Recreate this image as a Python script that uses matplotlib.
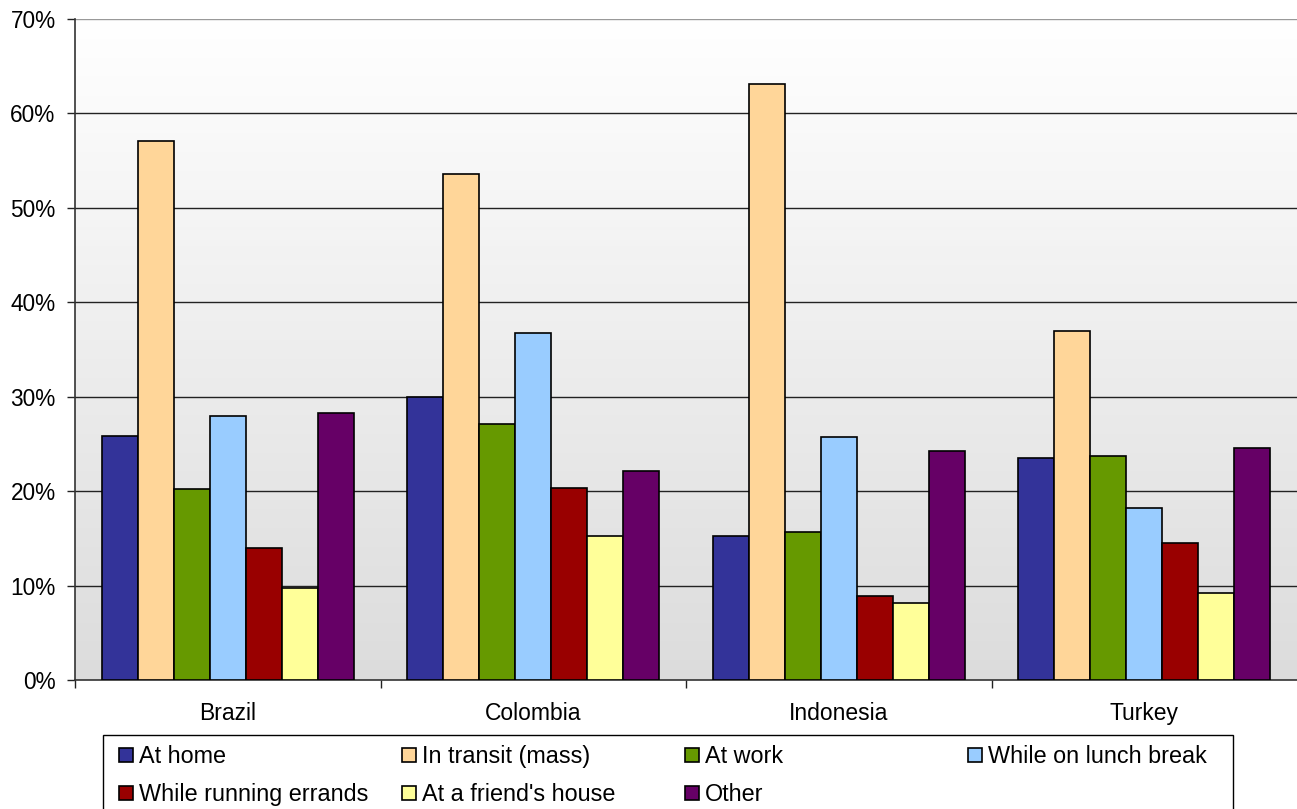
import numpy as np
import matplotlib
matplotlib.use("Agg")
import matplotlib.pyplot as plt
from matplotlib.patches import Rectangle
from matplotlib.ticker import FuncFormatter

countries = ["Brazil", "Colombia", "Indonesia", "Turkey"]
series_names = ["At home", "In transit (mass)", "At work", "While on lunch break",
                "While running errands", "At a friend's house", "Other"]
at_home = [25.8, 30.0, 15.3, 23.5]
in_transit = [57.1, 53.6, 63.1, 37.0]
at_work = [20.2, 27.1, 15.7, 23.7]
lunch_break = [28.0, 36.8, 25.7, 18.2]
errands = [14.0, 20.3, 8.9, 14.5]
friends_house = [9.7, 15.3, 8.2, 9.2]
other = [28.3, 22.1, 24.2, 24.6]
y_ticks = [0, 10, 20, 30, 40, 50, 60, 70]

series_values = [at_home, in_transit, at_work, lunch_break, errands, friends_house, other]
colors = ["#333399", "#FFD699", "#669900", "#99CCFF", "#990000", "#FFFF99", "#660066"]

plt.rcParams["font.family"] = ["Liberation Sans", "DejaVu Sans"]

W, H = 1297, 809
fig = plt.figure(figsize=(W / 100, H / 100), dpi=100)
ax = fig.add_axes([75 / W, 129 / H, 1 - 75 / W, (680 - 19) / H])

# vertical gradient background of the plot area
grad = np.linspace(1.0, 0.0, 256).reshape(-1, 1)
cmap = matplotlib.colors.LinearSegmentedColormap.from_list("bg", ["#DCDCDC", "#FFFFFF"])
ax.imshow(grad, extent=[-0.5, 3.5, 0, 70], aspect="auto", cmap=cmap,
          origin="upper", zorder=0, vmin=0, vmax=1)

x = np.arange(len(countries))
bw = 0.1178
n = len(series_values)
for i, (vals, c) in enumerate(zip(series_values, colors)):
    ax.bar(x + (i - (n - 1) / 2) * bw, vals, width=bw, color=c, edgecolor="black",
           linewidth=1.2, zorder=3)

ax.set_xlim(-0.5, 3.5)
ax.set_ylim(0, 70)
ax.set_yticks(y_ticks)
ax.yaxis.set_major_formatter(FuncFormatter(lambda v, p: f"{v:.0f}%"))
for yv in y_ticks[1:]:
    ax.axhline(yv, color="#999999" if yv == 70 else "#222222", linewidth=1.0, zorder=1)

ax.set_xticks([-0.5, 0.5, 1.5, 2.5])
ax.set_xticklabels([])
ax.set_xticks(x, minor=True)
ax.set_xticklabels(countries, minor=True)
ax.tick_params(axis="x", which="minor", length=0, pad=16, labelsize=16.5)
ax.tick_params(axis="x", which="major", length=6, width=1.0, color="#222222")
ax.tick_params(axis="y", length=6, width=1.0, labelsize=16.3, color="#222222", pad=8)

for s in ["top", "right"]:
    ax.spines[s].set_visible(False)
for s in ["left", "bottom"]:
    ax.spines[s].set_color("#333333")
    ax.spines[s].set_linewidth(1.2)

# legend box: four evenly spaced columns, two rows
fig.patches.append(Rectangle((103 / W, -0.01), (1233 - 103) / W, (H - 735) / H + 0.01,
                             transform=fig.transFigure, facecolor="white",
                             edgecolor="black", linewidth=1.0))
col_x = [119, 402, 685, 968]
baselines = [763, 801]
sq = 14
for k, (name, c) in enumerate(zip(series_names, colors)):
    r, col = divmod(k, 4)
    hx, by = col_x[col], baselines[r]
    fig.patches.append(Rectangle((hx / W, (H - by + 1) / H), sq / W, sq / H,
                                 transform=fig.transFigure, facecolor=c,
                                 edgecolor="black", linewidth=1.2))
    fig.text((hx + sq + 6) / W, (H - by) / H, name, fontsize=16.8,
             va="baseline", ha="left")

fig.savefig("out.png", dpi=100)
